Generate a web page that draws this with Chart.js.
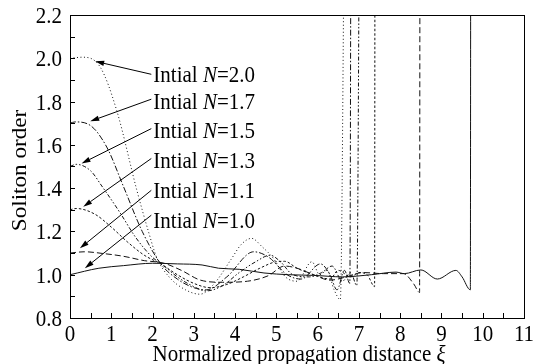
<!DOCTYPE html>
<html>
<head>
<meta charset="utf-8">
<title>Soliton order vs propagation distance</title>
<script src="https://cdn.jsdelivr.net/npm/chart.js@4.4.0/dist/chart.umd.min.js"></script>
<style>
    html, body { margin: 0; padding: 0; background: #fff; }
    #wrap { width: 534px; height: 364px; }
</style>
</head>
<body>
<div id="wrap"><canvas id="solitonChart" width="534" height="364"></canvas></div>
<script>
// ---- data ----
const xTicks = [0, 1, 2, 3, 4, 5, 6, 7, 8, 9, 10, 11];
const yTicks = [0.8, 1.0, 1.2, 1.4, 1.6, 1.8, 2.0, 2.2];
const xMinorStep = 0.5;
const yMinorStep = 0.1;

// N = 2.0 (dotted)
const n20X = [0, 0.3, 0.73, 1.13, 1.62, 1.9, 2.1, 2.4, 2.8, 3.15, 3.5, 3.9, 4.15, 4.4, 4.65, 4.93, 5.22, 5.5, 5.86, 6.05, 6.23, 6.4, 6.55, 6.66];
const n20Y = [2.0, 2.005, 1.96, 1.76, 1.39, 1.2, 1.08, 0.99, 0.93, 0.91, 0.96, 1.07, 1.14, 1.168, 1.13, 1.075, 0.99, 0.97, 1.06, 1.0, 1.02, 0.93, 0.885, 3.0];
// N = 1.7 (dash-dot)
const n17X = [0, 0.12, 0.49, 0.89, 1.29, 1.75, 2.2, 2.6, 3.0, 3.3, 3.8, 4.45, 4.82, 5.26, 5.6, 6.07, 6.3, 6.47, 6.65, 6.78, 6.81];
const n17Y = [1.7, 1.706, 1.69, 1.59, 1.41, 1.2, 1.05, 0.98, 0.94, 0.93, 0.99, 1.106, 1.08, 1.0, 0.98, 1.05, 1.0, 0.93, 1.02, 0.96, 3.0];
// N = 1.5 (dash-dot-dot)
const n15X = [0, 0.15, 0.5, 0.77, 1.2, 1.6, 2.0, 2.25, 2.6, 3.0, 3.3, 3.7, 4.1, 4.5, 4.85, 5.1, 5.4, 5.8, 6.1, 6.35, 6.6, 6.8, 6.95, 7.02];
const n15Y = [1.5, 1.51, 1.48, 1.41, 1.29, 1.17, 1.08, 1.045, 0.99, 0.945, 0.925, 0.95, 1.01, 1.06, 1.09, 1.06, 1.0, 0.99, 1.01, 1.04, 0.97, 1.01, 0.95, 3.0];
// N = 1.3 (short dashes)
const n13X = [0, 0.15, 0.6, 1.0, 1.4, 1.8, 2.2, 2.6, 3.0, 3.4, 3.8, 4.2, 4.6, 5.0, 5.2, 5.5, 5.9, 6.3, 6.5, 6.8, 7.0, 7.2, 7.38, 7.39];
const n13Y = [1.3, 1.306, 1.28, 1.22, 1.15, 1.09, 1.05, 1.0, 0.96, 0.94, 0.955, 0.99, 1.03, 1.06, 1.062, 1.03, 1.0, 0.98, 1.02, 0.99, 1.01, 1.0, 0.945, 3.0];
// N = 1.1 (long dashes)
const n11X = [0, 0.35, 0.8, 1.3, 1.8, 2.26, 2.7, 3.16, 3.7, 4.3, 4.8, 5.2, 5.5, 5.9, 6.3, 6.7, 7.1, 7.6, 8.08, 8.33, 8.47, 8.48];
const n11Y = [1.1, 1.106, 1.098, 1.085, 1.065, 1.054, 1.02, 0.975, 0.965, 0.97, 0.995, 1.04, 1.03, 1.0, 0.975, 0.99, 1.01, 1.005, 1.005, 0.957, 0.918, 3.0];
// N = 1.0 (solid)
const n10X = [0, 0.7, 1.3, 2.0, 2.6, 3.2, 3.6, 4.1, 4.7, 5.3, 5.9, 6.6, 7.3, 7.9, 8.1, 8.5, 8.9, 9.35, 9.5, 9.7, 9.71];
const n10Y = [1.0, 1.03, 1.042, 1.053, 1.05, 1.045, 1.03, 1.025, 1.008, 1.0, 0.997, 0.99, 1.0, 1.012, 1.005, 1.022, 0.98, 1.02, 0.99, 0.93, 3.0];

// annotation labels with arrows (data units)
const noteValues = ['2.0', '1.7', '1.5', '1.3', '1.1', '1.0'];
const noteTextX = 2.02;
const noteTextY = [1.917, 1.792, 1.658, 1.52, 1.383, 1.244];
const arrowFromX = 1.97;
const arrowFromY = [1.926, 1.811, 1.675, 1.537, 1.39, 1.275];
const arrowToX = [0.61, 0.49, 0.28, 0.32, 0.24, 0.36];
const arrowToY = [1.986, 1.709, 1.514, 1.314, 1.122, 1.03];

const SERIF = '"Liberation Serif", "DejaVu Serif", serif';
const FONT_PX = 21;
const STRETCH = 1.1;   // the scanned figure is a little taller than wide

function toPoints(xs, ys) {
    return xs.map(function(x, i) { return { x: x, y: ys[i] }; });
}

function series(label, xs, ys, dash) {
    return {
        label: label,
        data: toPoints(xs, ys),
        borderColor: '#111',
        borderWidth: 1,
        borderDash: dash,
        pointRadius: 0,
        fill: false,
        cubicInterpolationMode: 'monotone'
    };
}

// draw a run of [text, italic] parts, vertically stretched
function drawParts(ctx, parts, x, y, align) {
    let total = 0;
    parts.forEach(function(p) {
        ctx.font = (p[1] ? 'italic ' : '') + FONT_PX + 'px ' + SERIF;
        total += ctx.measureText(p[0]).width;
    });
    let sx = align === 'right' ? -total : align === 'center' ? -total / 2 : 0;
    ctx.save();
    ctx.translate(x, y);
    ctx.scale(1, STRETCH);
    ctx.textAlign = 'left';
    parts.forEach(function(p) {
        ctx.font = (p[1] ? 'italic ' : '') + FONT_PX + 'px ' + SERIF;
        ctx.fillText(p[0], sx, 0);
        sx += ctx.measureText(p[0]).width;
    });
    ctx.restore();
}

// frame, inward ticks, tick labels, titles, notes with arrows
const decorations = {
    id: 'decorations',
    afterDatasetsDraw(chart) {
        const ctx = chart.ctx;
        const a = chart.chartArea;
        const xs = chart.scales.x;
        const ys = chart.scales.y;
        ctx.save();
        ctx.strokeStyle = '#000';
        ctx.fillStyle = '#000';
        ctx.lineWidth = 1;
        ctx.setLineDash([]);
        ctx.strokeRect(Math.round(a.left) + 0.5, Math.round(a.top) + 0.5,
                       Math.round(a.right - a.left), Math.round(a.bottom - a.top));

        ctx.beginPath();
        for (let v = xs.min; v <= xs.max + 1e-9; v += xMinorStep) {
            const px = Math.round(xs.getPixelForValue(v)) + 0.5;
            ctx.moveTo(px, a.bottom);
            ctx.lineTo(px, a.bottom - 5);
        }
        for (let v = ys.min; v <= ys.max + 1e-9; v += yMinorStep) {
            const py = Math.round(ys.getPixelForValue(v)) + 0.5;
            ctx.moveTo(a.left, py);
            ctx.lineTo(a.left + 5, py);
        }
        ctx.stroke();

        // tick labels
        ctx.textBaseline = 'middle';
        xTicks.forEach(function(v) {
            drawParts(ctx, [[String(v), false]], xs.getPixelForValue(v), a.bottom + 17, 'center');
        });
        yTicks.forEach(function(v) {
            drawParts(ctx, [[v.toFixed(1), false]], a.left - 8, ys.getPixelForValue(v) + 2, 'right');
        });

        // y title (rotated)
        ctx.save();
        ctx.translate(20, (a.top + a.bottom) / 2 + 4);
        ctx.rotate(-Math.PI / 2);
        ctx.scale(STRETCH, 1 / STRETCH);
        drawParts(ctx, [['Soliton order', false]], 0, 0, 'center');
        ctx.restore();

        // x title with italic xi
        ctx.textBaseline = 'alphabetic';
        drawParts(ctx, [['Normalized propagation distance ', false], ['\u03BE', true]],
                  (a.left + a.right) / 2 + 2, 361, 'center');

        // arrows and notes
        ctx.textBaseline = 'middle';
        noteValues.forEach(function(val, i) {
            const x0 = xs.getPixelForValue(arrowFromX);
            const y0 = ys.getPixelForValue(arrowFromY[i]);
            const x1 = xs.getPixelForValue(arrowToX[i]);
            const y1 = ys.getPixelForValue(arrowToY[i]);
            const ang = Math.atan2(y1 - y0, x1 - x0);
            const headLen = 9, headW = 2.6;
            const bx = x1 - headLen * Math.cos(ang);
            const by = y1 - headLen * Math.sin(ang);
            ctx.beginPath();
            ctx.moveTo(x0, y0);
            ctx.lineTo(bx, by);
            ctx.stroke();
            ctx.beginPath();
            ctx.moveTo(x1, y1);
            ctx.lineTo(bx + headW * Math.sin(ang), by - headW * Math.cos(ang));
            ctx.lineTo(bx - headW * Math.sin(ang), by + headW * Math.cos(ang));
            ctx.closePath();
            ctx.fill();

            drawParts(ctx, [['Intial ', false], ['N', true], ['=' + val, false]],
                      xs.getPixelForValue(noteTextX), ys.getPixelForValue(noteTextY[i]), 'left');
        });
        ctx.restore();
    }
};

function initializeChart() {
    const ctx = document.getElementById('solitonChart');
    new Chart(ctx, {
        type: 'line',
        data: {
            datasets: [
                series('N=2.0', n20X, n20Y, [1, 2.5]),
                series('N=1.7', n17X, n17Y, [6, 2, 1.5, 2]),
                series('N=1.5', n15X, n15Y, [4, 2, 1.5, 2, 1.5, 2]),
                series('N=1.3', n13X, n13Y, [2.5, 2]),
                series('N=1.1', n11X, n11Y, [6, 3]),
                series('N=1.0', n10X, n10Y, [])
            ]
        },
        options: {
            responsive: false,
            animation: false,
            layout: { padding: { top: 15, right: 10, left: 0, bottom: 0 } },
            plugins: {
                legend: { display: false },
                tooltip: { enabled: false }
            },
            scales: {
                x: {
                    type: 'linear',
                    min: 0,
                    max: 11,
                    afterFit: function(s) { s.height = 46; },
                    ticks: { display: false },
                    grid: { display: false, drawTicks: false },
                    border: { display: false }
                },
                y: {
                    min: 0.8,
                    max: 2.2,
                    afterFit: function(s) { s.width = 70; },
                    ticks: { display: false },
                    grid: { display: false, drawTicks: false },
                    border: { display: false }
                }
            }
        },
        plugins: [decorations]
    });
}

document.addEventListener('DOMContentLoaded', initializeChart);
</script>
</body>
</html>
